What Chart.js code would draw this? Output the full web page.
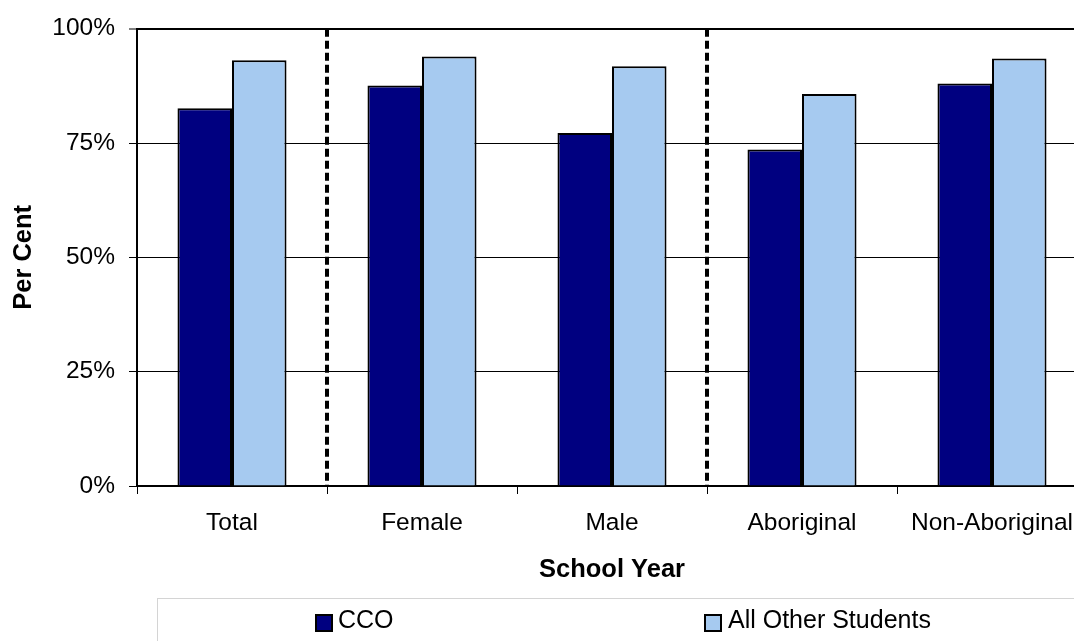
<!DOCTYPE html>
<html>
<head>
<meta charset="utf-8">
<script src="https://cdn.jsdelivr.net/npm/chart.js@4/dist/chart.umd.min.js"></script>
<style>
  html, body { margin: 0; padding: 0; background: #fff; overflow: hidden; }
  #wrap { position: relative; width: 1100px; height: 641px; }
</style>
</head>
<body>
<div id="wrap"><canvas id="c"></canvas></div>
<script>
const categories = ["Total", "Female", "Male", "Aboriginal", "Non-Aboriginal"];
const ccoValues = [82.6, 87.6, 77.2, 73.6, 88.0];
const otherValues = [93.1, 93.9, 91.8, 85.7, 93.5];
const seriesNames = ["CCO", "All Other Students"];
const seriesColors = ["#000080", "#A6CAF0"];
const yTicks = [0, 25, 50, 75, 100];
const separatorsAfter = [0, 2];

const FONT = "'Liberation Sans', Arial, sans-serif";

const separatorPlugin = {
  id: 'separators',
  afterDatasetsDraw(chart) {
    const { ctx, chartArea, scales } = chart;
    const x = scales.x;
    ctx.save();
    ctx.strokeStyle = '#000';
    ctx.lineWidth = 4;
    ctx.setLineDash([8, 4]);
    separatorsAfter.forEach(i => {
      const px = Math.round((x.getPixelForValue(i) + x.getPixelForValue(i + 1)) / 2);
      ctx.beginPath();
      ctx.moveTo(px, chartArea.top);
      ctx.lineTo(px, chartArea.bottom);
      ctx.stroke();
    });
    ctx.restore();
  }
};

const legendPlugin = {
  id: 'customLegend',
  afterDraw(chart) {
    const { ctx } = chart;
    ctx.save();
    ctx.strokeStyle = '#d4d4d4';
    ctx.lineWidth = 1;
    ctx.strokeRect(157.5, 598.5, 1200, 200);
    const items = [
      { sq: 316, tx: 338 },
      { sq: 705, tx: 728 }
    ];
    ctx.font = "25px " + FONT;
    ctx.textBaseline = 'middle';
    ctx.textAlign = 'left';
    chart.data.datasets.forEach((ds, i) => {
      const it = items[i];
      ctx.fillStyle = ds.backgroundColor;
      ctx.fillRect(it.sq, 615, 16, 16);
      ctx.strokeStyle = '#000';
      ctx.lineWidth = 2;
      ctx.strokeRect(it.sq, 615, 16, 16);
      ctx.fillStyle = '#000';
      ctx.fillText(ds.label, it.tx, 621);
    });
    ctx.restore();
  }
};

new Chart(document.getElementById('c'), {
  type: 'bar',
  data: {
    labels: categories,
    datasets: [
      { label: seriesNames[0], data: ccoValues, backgroundColor: seriesColors[0], borderColor: '#000', borderWidth: 2 },
      { label: seriesNames[1], data: otherValues, backgroundColor: seriesColors[1], borderColor: '#000', borderWidth: 2 }
    ]
  },
  options: {
    responsive: true,
    maintainAspectRatio: false,
    animation: false,
    layout: { padding: { top: 27, right: 13, bottom: 43, left: 0 } },
    plugins: { legend: { display: false }, tooltip: { enabled: false } },
    datasets: { bar: { barPercentage: 1.0, categoryPercentage: 0.574 } },
    scales: {
      x: {
        offset: true,
        grid: { display: true, drawOnChartArea: false, drawTicks: true, tickLength: 8, tickColor: '#000', tickWidth: 1, offset: true },
        border: { display: true, color: '#000', width: 2 },
        ticks: { color: '#000', font: { family: FONT, size: 24.5 }, padding: 15, maxRotation: 0, autoSkip: false },
        title: { display: true, text: 'School Year', color: '#000', font: { family: FONT, size: 25.5, weight: 'bold' }, padding: { top: 0, bottom: 13 } },
        afterFit(scale) { scale.height = 112; }
      },
      y: {
        min: 0, max: 100,
        afterBuildTicks(scale) { scale.ticks = yTicks.map(v => ({ value: v })); },
        grid: {
          color: '#000',
          lineWidth: (c) => (c.tick && c.tick.value === 100 ? 2 : 1),
          drawTicks: true, tickLength: 8, tickColor: '#000', tickWidth: 1
        },
        border: { display: true, color: '#000', width: 2 },
        ticks: { color: '#000', font: { family: FONT, size: 24.5 }, padding: 14, callback: v => v + '%' },
        title: { display: true, text: 'Per Cent', color: '#000', font: { family: FONT, size: 25.5, weight: 'bold' }, padding: { top: 9, bottom: 0 } },
        afterFit(scale) { scale.width = 137; }
      }
    }
  },
  plugins: [separatorPlugin, legendPlugin]
});
</script>
</body>
</html>
